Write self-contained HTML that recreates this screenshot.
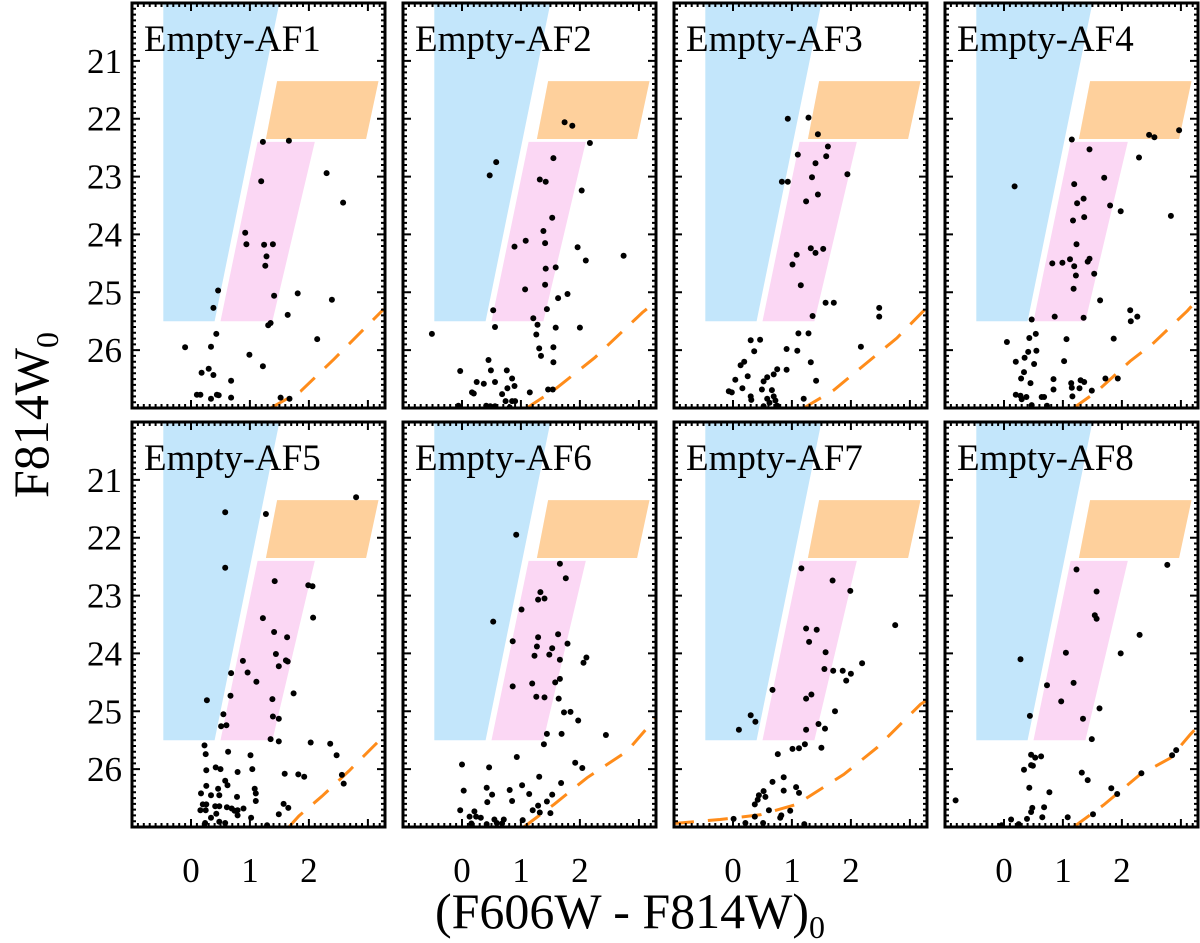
<!DOCTYPE html>
<html><head><meta charset="utf-8">
<style>
html,body{margin:0;padding:0;background:#fff;}
svg{display:block;}
text{font-family:"Liberation Serif",serif;fill:#000;}
</style></head>
<body>
<svg id="fig" width="1200" height="943" viewBox="0 0 1200 943" xmlns="http://www.w3.org/2000/svg"></svg>
<script>
const panelNames = ["Empty-AF1","Empty-AF2","Empty-AF3","Empty-AF4","Empty-AF5","Empty-AF6","Empty-AF7","Empty-AF8"];
const yTicks = [21,22,23,24,25,26];
const xTicks = [0,1,2];
const blueBox = [[-0.47,20],[1.5,20],[0.4,25.5],[-0.47,25.5]];
const pinkBox = [[1.13,22.4],[2.1,22.4],[1.38,25.5],[0.5,25.5]];
const orangeBox = [[1.46,21.35],[3.18,21.35],[2.97,22.35],[1.27,22.35]];
const iso1 = [[1.35,27],[1.86,26.71],[2.42,26.16],[3.27,25.29]];
const iso2 = [[1.1,27],[1.55,26.7],[2.25,26.13],[3.06,25.35],[3.3,25.15]];
const iso3 = [[1.2,27],[1.71,26.69],[2.16,26.31],[2.78,25.79],[3.3,25.25]];
const iso4 = [[1.18,27],[1.58,26.71],[2.14,26.19],[2.51,25.9],[3.11,25.32],[3.3,25.1]];
const iso5 = [[1.66,27],[1.83,26.81],[2.22,26.47],[2.68,26.03],[3.1,25.6],[3.3,25.4]];
const iso6 = [[1.05,27],[1.56,26.61],[2.12,26.15],[2.8,25.69],[3.3,25.1]];
const iso7 = [[-1,26.94],[-0.22,26.87],[0.46,26.79],[1.08,26.61],[1.88,26.09],[2.44,25.63],[3.18,24.88],[3.3,24.8]];
const iso8 = [[1.18,27],[1.69,26.62],[2.31,26.09],[2.82,25.81],[3.16,25.4],[3.3,25.25]];
const stars1 = [[1.22,22.4],[1.66,22.38],[1.19,23.08],[2.3,22.94],[2.58,23.45],[0.92,23.97],[0.94,24.17],[1.24,24.18],[1.39,24.17],[1.28,24.38],[1.26,24.54],[0.46,24.97],[0.38,25.27],[1.41,25.06],[1.81,25.02],[2.39,25.13],[1.64,25.39],[1.35,25.53],[1.31,25.57],[0.43,25.72],[2.14,25.81],[-0.1,25.95],[0.34,25.94],[0.99,26.08],[1.22,26.28],[0.18,26.39],[0.3,26.32],[0.38,26.43],[0.68,26.53],[0.1,26.77],[0.16,26.77],[0.34,26.84],[0.44,26.77],[0.47,26.78],[0.68,26.82],[1.52,26.82],[1.67,26.84]];
const stars2 = [[1.74,22.06],[1.87,22.12],[2.17,22.42],[1.55,22.68],[0.58,22.75],[0.47,22.98],[1.32,23.05],[1.42,23.09],[2.03,23.24],[1.53,23.71],[1.38,23.94],[1.08,24.11],[1.41,24.15],[0.89,24.21],[1.96,24.22],[2.1,24.45],[2.74,24.37],[1.42,24.59],[1.59,24.57],[1.41,24.87],[1.07,24.95],[1.79,25.03],[1.63,25.1],[1.44,25.29],[0.53,25.31],[1.21,25.45],[1.28,25.56],[0.56,25.6],[1.59,25.61],[2.0,25.61],[-0.51,25.72],[1.26,25.73],[1.31,25.97],[1.55,25.95],[1.34,26.1],[1.55,26.21],[0.45,26.17],[-0.03,26.36],[0.49,26.35],[0.76,26.35],[0.85,26.49],[0.25,26.55],[0.37,26.58],[0.56,26.55],[0.89,26.62],[0.77,26.66],[0.17,26.73],[0.2,26.75],[0.68,26.76],[1.15,26.73],[1.46,26.68],[1.54,26.68],[0.74,26.88],[0.85,26.88],[0.9,26.88],[-0.06,26.96],[0.41,26.96],[0.48,26.97],[0.56,26.97],[0.81,26.99]];
const stars3 = [[0.93,22.0],[1.28,21.98],[1.44,22.27],[1.61,22.48],[1.1,22.62],[1.58,22.65],[1.4,22.77],[1.94,22.96],[1.34,23.01],[0.83,23.09],[0.93,23.09],[1.44,23.31],[1.24,23.43],[1.32,24.24],[1.4,24.32],[1.53,24.25],[1.08,24.35],[1.01,24.52],[1.15,24.88],[1.57,25.18],[1.71,25.18],[1.35,25.41],[2.48,25.27],[2.48,25.42],[1.11,25.71],[1.28,25.71],[0.3,25.83],[0.46,25.82],[0.36,26.02],[0.91,25.98],[1.09,26.01],[2.17,25.94],[1.32,26.21],[0.19,26.2],[0.13,26.26],[0.91,26.34],[0.75,26.33],[0.69,26.42],[0.58,26.47],[0.52,26.54],[0.25,26.45],[0.04,26.51],[1.41,26.53],[0.16,26.66],[0.49,26.68],[0.66,26.69],[-0.07,26.71],[-0.02,26.73],[0.3,26.8],[0.31,26.86],[0.58,26.84],[0.69,26.8],[0.72,26.87],[0.62,26.91],[1.2,26.84],[0.75,26.96],[0.52,26.97]];
const stars4 = [[1.15,22.36],[2.46,22.28],[2.55,22.32],[2.97,22.2],[1.45,22.53],[2.29,22.67],[0.18,23.17],[1.19,23.13],[1.7,23.02],[1.35,23.38],[1.24,23.46],[1.8,23.5],[1.98,23.6],[2.83,23.68],[1.17,23.76],[1.36,23.7],[1.23,24.17],[0.82,24.5],[0.99,24.49],[1.12,24.43],[1.19,24.55],[1.42,24.47],[1.45,24.42],[1.22,24.71],[1.53,24.68],[1.18,24.94],[1.63,25.14],[0.86,25.42],[1.35,25.44],[0.47,25.47],[2.14,25.31],[2.26,25.42],[2.15,25.5],[0.54,25.72],[0.43,25.79],[0.05,25.86],[1.06,25.81],[1.86,25.8],[0.41,26.03],[0.55,26.01],[0.35,26.13],[0.2,26.2],[0.51,26.24],[1.02,26.19],[0.34,26.38],[0.29,26.49],[0.45,26.57],[0.84,26.5],[1.14,26.57],[1.3,26.52],[1.36,26.55],[1.72,26.49],[1.93,26.49],[1.15,26.65],[1.28,26.66],[1.49,26.7],[0.84,26.68],[0.2,26.77],[0.28,26.79],[0.38,26.81],[0.3,26.85],[1.16,26.8],[0.64,26.81],[0.68,26.81],[0.47,26.95],[0.73,26.96]];
const stars5 = [[2.8,21.3],[0.58,21.56],[1.27,21.59],[0.58,22.52],[1.42,22.75],[1.99,22.82],[2.06,22.84],[1.22,23.39],[2.07,23.38],[1.41,23.63],[1.63,23.72],[1.44,24.01],[1.61,24.12],[1.64,24.14],[1.49,24.22],[0.88,24.13],[0.68,24.34],[0.96,24.33],[1.11,24.49],[1.74,24.69],[0.27,24.81],[0.67,24.73],[1.38,24.79],[0.55,25.05],[0.51,25.26],[0.6,25.24],[1.39,25.09],[1.49,25.13],[1.35,25.48],[1.49,25.52],[2.03,25.54],[2.36,25.56],[0.23,25.59],[0.25,25.74],[0.63,25.7],[1.01,25.76],[2.47,25.76],[0.26,26.02],[0.42,25.97],[0.5,26.0],[0.79,26.05],[1.04,26.0],[1.59,26.08],[1.82,26.09],[1.92,26.13],[2.56,26.1],[2.59,26.25],[0.58,26.2],[0.62,26.28],[0.26,26.29],[0.46,26.34],[0.17,26.42],[0.34,26.45],[0.48,26.45],[0.78,26.48],[1.08,26.34],[1.1,26.42],[1.1,26.55],[1.57,26.6],[1.65,26.67],[0.2,26.61],[0.26,26.61],[0.41,26.64],[0.48,26.64],[0.61,26.66],[0.69,26.68],[0.74,26.72],[0.79,26.71],[0.89,26.68],[0.16,26.71],[0.25,26.71],[0.43,26.77],[0.79,26.8],[0.34,26.84],[1.49,26.78],[1.02,26.84],[0.48,26.91],[0.24,26.93],[0.58,26.93],[1.29,26.97]];
const stars6 = [[0.92,21.95],[1.66,22.45],[1.76,22.7],[1.33,22.94],[1.29,23.07],[1.4,23.05],[1.01,23.24],[0.53,23.45],[0.86,23.79],[1.29,23.72],[1.63,23.67],[1.27,23.88],[1.53,23.91],[1.79,23.83],[1.23,24.04],[1.48,24.02],[1.66,24.11],[2.11,24.07],[2.06,24.16],[1.66,24.44],[1.58,24.5],[0.86,24.57],[1.19,24.52],[1.26,24.75],[1.4,24.76],[1.64,24.78],[1.73,25.02],[1.84,25.01],[1.97,25.16],[1.44,25.39],[1.69,25.39],[2.44,25.41],[1.39,25.57],[0.93,25.79],[0.0,25.92],[0.46,25.97],[1.92,25.89],[2.04,25.98],[1.31,26.13],[1.68,26.24],[0.03,26.37],[0.42,26.32],[0.51,26.44],[0.81,26.36],[1.02,26.28],[1.14,26.43],[0.85,26.55],[0.43,26.57],[1.53,26.44],[1.44,26.56],[-0.03,26.71],[0.13,26.82],[0.21,26.73],[0.24,26.82],[0.32,26.84],[1.2,26.71],[1.29,26.63],[1.32,26.75],[1.5,26.76],[0.55,26.87],[0.59,26.93],[0.71,26.87],[0.68,26.94],[1.03,26.88],[0.16,26.94],[0.42,26.95]];
const stars7 = [[1.16,22.53],[1.69,22.74],[1.99,22.92],[2.75,23.51],[1.24,23.57],[1.42,23.59],[1.29,23.8],[1.57,23.98],[2.19,24.17],[1.55,24.27],[1.7,24.3],[1.86,24.3],[2.0,24.35],[1.92,24.47],[0.67,24.63],[1.24,24.78],[1.33,24.71],[1.73,25.0],[0.3,25.07],[0.38,25.18],[0.1,25.32],[1.45,25.22],[1.56,25.3],[1.24,25.32],[1.22,25.57],[1.12,25.64],[1.01,25.65],[1.5,25.63],[0.76,25.74],[0.86,26.14],[0.67,26.22],[0.52,26.38],[0.44,26.45],[0.55,26.48],[0.42,26.53],[0.37,26.61],[0.86,26.37],[1.07,26.31],[1.12,26.41],[0.61,26.71],[0.82,26.8],[0.8,26.84],[0.97,26.72],[0.37,26.82],[0.01,26.86],[0.21,26.93],[0.51,26.93],[1.21,26.95]];
const stars8 = [[2.77,22.47],[1.23,22.55],[1.57,22.93],[1.54,23.34],[1.57,23.4],[2.3,23.68],[0.28,24.1],[1.05,23.99],[1.98,24.0],[0.73,24.55],[1.18,24.51],[0.97,24.83],[1.62,24.95],[0.44,25.08],[1.34,25.13],[1.49,25.48],[0.46,25.75],[0.53,25.8],[0.63,25.78],[0.46,25.93],[0.49,25.94],[0.34,26.01],[1.32,26.06],[1.42,26.19],[2.33,26.07],[2.85,25.76],[2.92,25.67],[0.43,26.32],[0.77,26.4],[1.82,26.33],[1.92,26.43],[-0.82,26.54],[0.48,26.67],[0.46,26.74],[0.68,26.66],[0.65,26.83],[0.39,26.86],[0.12,26.87],[0.25,26.95],[1.08,26.83],[1.51,26.78],[-0.04,26.97]];
const starSets = [stars1,stars2,stars3,stars4,stars5,stars6,stars7,stars8];
const isoSets = [iso1,iso2,iso3,iso4,iso5,iso6,iso7,iso8];

const NS = "http://www.w3.org/2000/svg";
const svg = document.getElementById('fig');
const colLeft = [132,403,674,945], rowTop = [3,422];
const PW = 253, PH = 405;
const XMIN = -1, XMAX = 3.29, YMIN = 20, YMAX = 27;
function mk(tag, attrs, parent){const e=document.createElementNS(NS,tag);for(const k in attrs)e.setAttribute(k,attrs[k]);(parent||svg).appendChild(e);return e;}
function sx(ox,c){return ox + (c-XMIN)/(XMAX-XMIN)*PW;}
function sy(oy,m){return oy + (m-YMIN)/(YMAX-YMIN)*PH;}

for(let p=0;p<8;p++){
  const ox = colLeft[p%4], oy = rowTop[Math.floor(p/4)];
  const g = mk('g',{});
  
  
  const cid='clip'+p;
  const cp = mk('clipPath',{id:cid},g); mk('rect',{x:ox,y:oy,width:PW,height:PH},cp);
  const inner = mk('g',{'clip-path':'url(#'+cid+')'},g);
  const boxes=[[blueBox,'#c3e6fb','blue-region'],[orangeBox,'#fed09c','orange-region'],[pinkBox,'#fbd7f4','pink-region']];
  for(const [b,col,nm] of boxes){
    const pts=b.map(q=>sx(ox,q[0]).toFixed(1)+','+sy(oy,q[1]).toFixed(1)).join(' ');
    const e=mk('polygon',{points:pts,fill:col},inner);
    
    
  }
  const iso=isoSets[p];
  const d=iso.map((q,i)=>(i?'L':'M')+sx(ox,q[0]).toFixed(1)+' '+sy(oy,q[1]).toFixed(1)).join(' ');
  const il=mk('path',{d:d,fill:'none',stroke:'#ff8c1a','stroke-width':3,'stroke-dasharray':'20 14'},inner);
  
  
  for(const s of starSets[p]){
    const c=mk('circle',{cx:sx(ox,s[0]).toFixed(1),cy:sy(oy,s[1]).toFixed(1),r:3,fill:'#000'},inner);
    
    
  }
  let tk='';
  for(let m=20.1;m<27;m+=0.1){
    const yy=sy(oy,m); const major=Math.abs(m-Math.round(m))<0.01;
    const L=major?8:4;
    tk+=`M${ox} ${yy.toFixed(1)}h${L}M${ox+PW} ${yy.toFixed(1)}h${-L}`;
  }
  for(let c=-0.9;c<3.29;c+=0.1){
    const xx=sx(ox,c); const major=Math.abs(c-Math.round(c))<0.01;
    const L=major?8:4;
    tk+=`M${xx.toFixed(1)} ${oy+PH}v${-L}M${xx.toFixed(1)} ${oy}v${L}`;
  }
  const tp=mk('path',{d:tk,stroke:'#000','stroke-width':2,fill:'none'},g);
  
  
  const fr=mk('rect',{x:ox,y:oy,width:PW,height:PH,fill:'none',stroke:'#000','stroke-width':3},g);
  
  
  const t=mk('text',{x:ox+12,y:oy+48,'font-size':37},g);
  t.textContent=panelNames[p];
  
  
  if(p%4===0){
    for(const v of yTicks){
      const yl=mk('text',{x:ox-10,y:sy(oy,v)+12,'font-size':35,'text-anchor':'end'},g);
      yl.textContent=v;
      
      
    }
  }
  if(p>=4){
    for(const v of xTicks){
      const xl=mk('text',{x:sx(ox,v),y:oy+PH+55,'font-size':35,'text-anchor':'middle'},g);
      xl.textContent=v;
      
      
    }
  }
}
const xt=mk('text',{x:630,y:928,'font-size':50,'text-anchor':'middle'});
xt.innerHTML='(F606W - F814W)<tspan font-size="32" dy="10">0</tspan>';


const yt=mk('text',{x:0,y:0,'font-size':50,'text-anchor':'middle',transform:'translate(48,415) rotate(-90)'});
yt.innerHTML='F814W<tspan font-size="32" dy="10">0</tspan>';


</script>
</body></html>
